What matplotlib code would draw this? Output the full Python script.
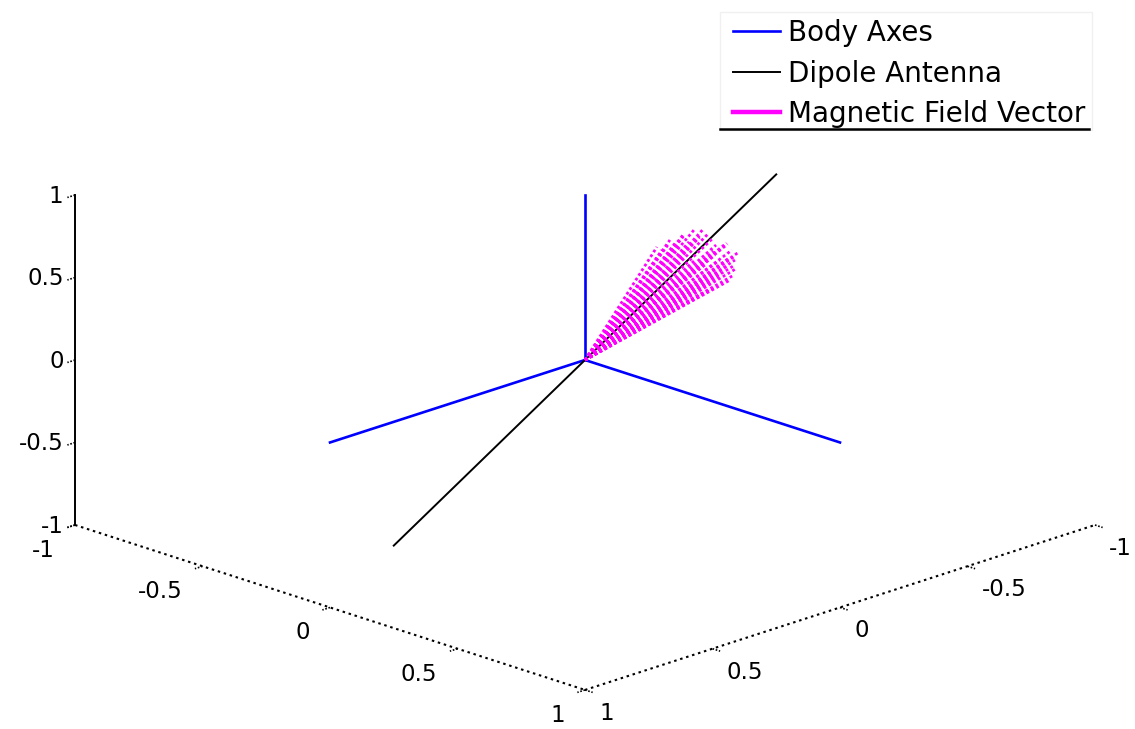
import numpy as np
import matplotlib
matplotlib.use("Agg")
import matplotlib.pyplot as plt
from matplotlib.lines import Line2D
from matplotlib.patches import Rectangle
from mpl_toolkits.mplot3d import proj3d

# ---------------- data ----------------
# Body axes: unit vectors drawn from the origin
body_tip_x = [1.0, 0.0, 0.0]
body_tip_y = [0.0, 1.0, 0.0]
body_tip_z = [0.0, 0.0, 1.0]

# Dipole antenna: straight line through the origin
dipole_x = [0.0, 0.0]
dipole_y = [0.75, -0.75]
dipole_z = [-0.75, 0.75]

# Magnetic field vector tips (each drawn from the origin)
mag_x = [0.00, 0.01, 0.00, -0.01, 0.00, 0.01, 0.00, 0.00, 0.01, 0.00,
         0.00, -0.01, 0.00, 0.00, 0.01, 0.00, 0.00, 0.00, 0.00, 0.01,
         0.00, 0.00, -0.01, 0.00, 0.00, 0.01, 0.00, 0.00, 0.00, 0.00,
         0.00, 0.01, 0.00, 0.00, 0.00, 0.00, 0.01, 0.00, 0.00, 0.00,
         -0.01, 0.00, 0.00, 0.01, 0.00, 0.00]
mag_y = [-0.282, -0.318, -0.357, -0.396, -0.427, -0.455, -0.486, -0.514, -0.545, -0.576,
         -0.604, -0.592, -0.596, -0.584, -0.553, -0.514, -0.486, -0.459, -0.302, -0.341,
         -0.369, -0.408, -0.459, -0.533, -0.565, -0.573, -0.537, -0.525, -0.486, -0.435,
         -0.502, -0.494, -0.529, -0.471, -0.431, -0.392, -0.549, -0.502, -0.463, -0.510,
         -0.569, -0.333, -0.384, -0.439, -0.588, -0.424]
mag_z = [0.544, 0.550, 0.537, 0.547, 0.574, 0.573, 0.527, 0.440, 0.442, 0.378,
         0.353, 0.322, 0.259, 0.223, 0.208, 0.185, 0.181, 0.176, 0.516, 0.515,
         0.513, 0.512, 0.510, 0.412, 0.336, 0.290, 0.265, 0.241, 0.230, 0.219,
         0.488, 0.419, 0.341, 0.341, 0.390, 0.440, 0.301, 0.282, 0.253, 0.381,
         0.413, 0.561, 0.565, 0.538, 0.312, 0.334]

tick_vals = [-1.0, -0.5, 0.0, 0.5, 1.0]
tick_labels = ["-1", "-0.5", "0", "0.5", "1"]

legend_labels = ["Body Axes", "Dipole Antenna", "Magnetic Field Vector"]

# ---------------- style ----------------
BLUE = "#0000ff"
MAGENTA = "#ff00ff"
W, H = 1135, 729
TICK_FS = 16.5
LEG_FS = 20

fig = plt.figure(figsize=(W / 100, H / 100), dpi=100)
ax = fig.add_axes([0, 0, 1, 1], projection="3d", proj_type="ortho")
ax.computed_zorder = False
ax.set_box_aspect((2.068, 2.068, 1.0))
ax.view_init(elev=-18.87, azim=-135)
ax.set_xlim(-1, 1)
ax.set_ylim(-1, 1)
ax.set_zlim(-1, 1)
ax.set_axis_off()

# axes lines (MATLAB-like, box off)
dot = (0, (1.2, 1.8))
ax.plot([-1, 1], [1, 1], [-1, -1], color="k", lw=1.5, ls=dot, clip_on=False, zorder=1)
ax.plot([1, 1], [1, -1], [-1, -1], color="k", lw=1.5, ls=dot, clip_on=False, zorder=1)
ax.plot([-1, -1], [1, 1], [-1, 1], color="k", lw=1.4, clip_on=False, zorder=1)

for v in tick_vals:
    ax.plot([v, v], [1, 1.03], [-1, -1], color="k", lw=1.2, ls=(0, (1, 1)), clip_on=False)
    ax.plot([1, 1.03], [v, v], [-1, -1], color="k", lw=1.2, ls=(0, (1, 1)), clip_on=False)
    ax.plot([-1, -1], [1, 1.03], [v, v], color="k", lw=1.2, ls=(0, (1, 1)), clip_on=False)

# body axes
for bx, by, bz in zip(body_tip_x, body_tip_y, body_tip_z):
    ax.plot([0, bx], [0, by], [0, bz], color=BLUE, lw=1.9, clip_on=False, zorder=2)

# dipole antenna
ax.plot(dipole_x, dipole_y, dipole_z, color="k", lw=1.4, clip_on=False, zorder=3)

# magnetic field vectors
for mx, my, mz in zip(mag_x, mag_y, mag_z):
    ax.plot([0, mx], [0, my], [0, mz], color=MAGENTA, lw=2.0, ls=(0, (1, 1)),
            clip_on=False, zorder=4)

# ---------------- fit the box to the target placement ----------------
target_origin = np.array([585.0, H - 360.0])
target_zscale = 165.0


def to_px(x, y, z):
    X, Y, _ = proj3d.proj_transform(x, y, z, ax.get_proj())
    return ax.transData.transform((X, Y))


for _ in range(3):
    fig.canvas.draw()
    o = to_px(0, 0, 0)
    t = to_px(0, 0, 1)
    s = t[1] - o[1]
    bb = ax.get_position().transformed(fig.transFigure)
    c = np.array([(bb.x0 + bb.x1) / 2, (bb.y0 + bb.y1) / 2])
    k = target_zscale / s
    side = bb.width * k
    c_new = target_origin - (o - c) * k
    ax.set_position([(c_new[0] - side / 2) / W, (c_new[1] - side / 2) / H,
                     side / W, side / H])
fig.canvas.draw()

# ---------------- tick labels (placed at projected anchor points) ----------------
for v, lab in zip(tick_vals, tick_labels):
    px, py = to_px(v, 1.08, -1.045)
    fig.text(px / W, py / H, lab, ha="right", va="top", fontsize=TICK_FS)
    px, py = to_px(1.055, v, -1.045)
    fig.text(px / W, py / H, lab, ha="left", va="top", fontsize=TICK_FS)
    px, py = to_px(-1.015, 1.03, v)
    fig.text(px / W, py / H, lab, ha="right", va="center", fontsize=TICK_FS)

# ---------------- legend ----------------
handles = [Line2D([], [], color=BLUE, lw=1.9),
           Line2D([], [], color="k", lw=1.4),
           Line2D([], [], color=MAGENTA, lw=3.2)]
fig.legend(handles, legend_labels, loc="upper left",
           bbox_to_anchor=(733 / W, 1 - 19 / H), frameon=False,
           fontsize=LEG_FS, handlelength=1.69, handletextpad=0.29,
           labelspacing=0.45, borderpad=0, borderaxespad=0)
fig.add_artist(Rectangle((720 / W, 1 - 130 / H), 372 / W, 118 / H,
                         transform=fig.transFigure, fill=False,
                         edgecolor="#f0f0f0", lw=1))
fig.add_artist(Line2D([720 / W, 1089 / W], [1 - 129 / H, 1 - 129 / H],
                      transform=fig.transFigure, color="k", lw=1.8))

fig.savefig("out.png", dpi=100)
